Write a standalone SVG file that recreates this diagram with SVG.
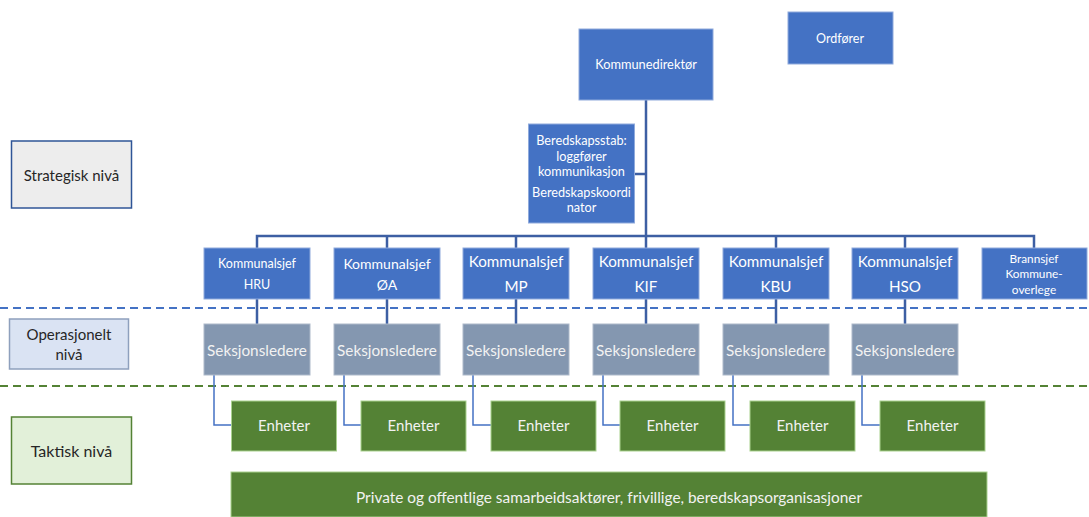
<svg xmlns="http://www.w3.org/2000/svg" width="1089" height="517" viewBox="0 0 1089 517">
<style>
text{font-family:Lato,"Open Sans","Liberation Sans",sans-serif;text-anchor:middle;dominant-baseline:central}
.b{fill:#4472C4;stroke:#8FAADC;stroke-width:1}
.s{fill:#8497B0;stroke:#ADB9CA;stroke-width:1}
.g{fill:#548235;stroke:#A9D18E;stroke-width:1}
.w{fill:#FFFFFF}
.sw{fill:#F2F2F2}
.k{fill:#262626}
.org{stroke:#3D5FA3;stroke-width:2.5;fill:none}
.sub{stroke:#4472C4;stroke-width:1.5;fill:none}
</style>
<rect width="1089" height="517" fill="#FFFFFF"/>

<g id="levels">
<line x1="0" y1="308" x2="1089" y2="308" stroke="#4472C4" stroke-width="2" stroke-dasharray="8,5"/>
<line x1="0" y1="386" x2="1089" y2="386" stroke="#548235" stroke-width="2" stroke-dasharray="8,5"/>
</g>

<g id="connectors">
<path class="org" d="M646,100 V236"/>
<path class="org" d="M634,174 H646"/>
<path class="org" d="M257,248 V236 H1034 V248"/>
<path class="org" d="M387,236 V248 M516,236 V248 M646,236 V248 M776,236 V248 M905,236 V248"/>
<path class="org" d="M257,299 V324 M387,299 V324 M516,299 V324 M646,299 V324 M776,299 V324 M905,299 V324"/>
<path class="sub" d="M214,375 V425 H231.5 M344,375 V425 H361 M473,375 V425 H491 M603,375 V425 H620 M733,375 V425 H750 M862,375 V425 H880"/>
</g>

<g id="strategisk"><rect x="11.5" y="141" width="120" height="67" fill="#EDEDED" stroke="#2F5597" stroke-width="1.5"/><text class="k" x="71.5" y="175" font-size="15">Strategisk nivå</text></g>
<g id="operasjonelt"><rect x="9.5" y="319" width="119" height="50" fill="#DAE3F3" stroke="#8EA0BD" stroke-width="1.5"/><text class="k" x="69" y="334" font-size="15">Operasjonelt</text><text class="k" x="69" y="354" font-size="15">nivå</text></g>
<g id="taktisk"><rect x="11.5" y="417" width="120" height="67" fill="#E2F0D9" stroke="#548235" stroke-width="1.5"/><text class="k" x="71.5" y="450" font-size="16">Taktisk nivå</text></g>

<g id="kommunedirektor"><rect class="b" x="579" y="29" width="134" height="71"/><text class="w" x="646" y="64" font-size="12.8">Kommunedirektør</text></g>
<g id="ordforer"><rect class="b" x="788" y="12" width="105" height="52"/><text class="w" x="840" y="38" font-size="12.5">Ordfører</text></g>
<g id="beredskapsstab"><rect class="b" x="528.5" y="124" width="106" height="99"/>
<text class="w" x="581.5" y="140" font-size="12.7">Beredskapsstab:</text>
<text class="w" x="581.5" y="156" font-size="12.7">loggfører</text>
<text class="w" x="581.5" y="171" font-size="12.7">kommunikasjon</text>
<text class="w" x="581.5" y="192" font-size="12.7">Beredskapskoordi</text>
<text class="w" x="581.5" y="207" font-size="12.7">nator</text></g>

<g id="ks-hru"><rect class="b" x="204" y="248" width="106" height="51"/><text class="w" x="257" y="263" font-size="12.5">Kommunalsjef</text><text class="w" x="257" y="284" font-size="12.5">HRU</text></g>
<g id="ks-oa"><rect class="b" x="334" y="248" width="106" height="51"/><text class="w" x="387" y="263" font-size="14">Kommunalsjef</text><text class="w" x="387" y="284" font-size="14">ØA</text></g>
<g id="ks-mp"><rect class="b" x="463" y="248" width="106" height="51"/><text class="w" x="516" y="261" font-size="15.2">Kommunalsjef</text><text class="w" x="516" y="286" font-size="15.2">MP</text></g>
<g id="ks-kif"><rect class="b" x="593" y="248" width="106" height="51"/><text class="w" x="646" y="261" font-size="15.2">Kommunalsjef</text><text class="w" x="646" y="286" font-size="15.2">KIF</text></g>
<g id="ks-kbu"><rect class="b" x="723" y="248" width="106" height="51"/><text class="w" x="776" y="261" font-size="15.2">Kommunalsjef</text><text class="w" x="776" y="286" font-size="15.2">KBU</text></g>
<g id="ks-hso"><rect class="b" x="852" y="248" width="106" height="51"/><text class="w" x="905" y="261" font-size="15.2">Kommunalsjef</text><text class="w" x="905" y="286" font-size="15.2">HSO</text></g>
<g id="brannsjef"><rect class="b" x="982" y="248" width="105" height="51"/><text class="w" x="1034" y="258" font-size="11.8">Brannsjef</text><text class="w" x="1034" y="273" font-size="11.8">Kommune-</text><text class="w" x="1034" y="289" font-size="11.8">overlege</text></g>

<g id="sl-1"><rect class="s" x="204" y="324" width="106" height="51"/><text class="sw" x="257" y="350" font-size="15.3">Seksjonsledere</text></g>
<g id="sl-2"><rect class="s" x="334" y="324" width="106" height="51"/><text class="sw" x="387" y="350" font-size="15.3">Seksjonsledere</text></g>
<g id="sl-3"><rect class="s" x="463" y="324" width="106" height="51"/><text class="sw" x="516" y="350" font-size="15.3">Seksjonsledere</text></g>
<g id="sl-4"><rect class="s" x="593" y="324" width="106" height="51"/><text class="sw" x="646" y="350" font-size="15.3">Seksjonsledere</text></g>
<g id="sl-5"><rect class="s" x="723" y="324" width="106" height="51"/><text class="sw" x="776" y="350" font-size="15.3">Seksjonsledere</text></g>
<g id="sl-6"><rect class="s" x="852" y="324" width="106" height="51"/><text class="sw" x="905" y="350" font-size="15.3">Seksjonsledere</text></g>

<g id="en-1"><rect class="g" x="231.5" y="401" width="105" height="50"/><text class="sw" x="284" y="425" font-size="15">Enheter</text></g>
<g id="en-2"><rect class="g" x="361" y="401" width="105" height="50"/><text class="sw" x="413.5" y="425" font-size="15">Enheter</text></g>
<g id="en-3"><rect class="g" x="491" y="401" width="105" height="50"/><text class="sw" x="543.5" y="425" font-size="15">Enheter</text></g>
<g id="en-4"><rect class="g" x="620" y="401" width="105" height="50"/><text class="sw" x="672.5" y="425" font-size="15">Enheter</text></g>
<g id="en-5"><rect class="g" x="750" y="401" width="105" height="50"/><text class="sw" x="802.5" y="425" font-size="15">Enheter</text></g>
<g id="en-6"><rect class="g" x="880" y="401" width="105" height="50"/><text class="sw" x="932.5" y="425" font-size="15">Enheter</text></g>

<g id="private"><rect class="g" x="231" y="472" width="756" height="45"/><text class="sw" x="609" y="497" font-size="15.4">Private og offentlige samarbeidsaktører, frivillige, beredskapsorganisasjoner</text></g>
</svg>
